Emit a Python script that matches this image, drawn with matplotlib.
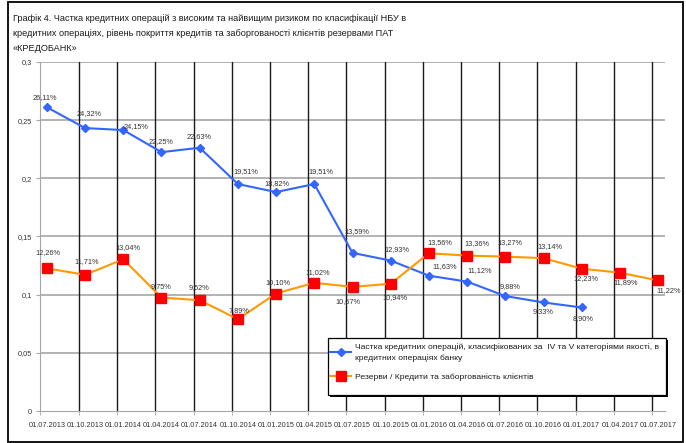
import matplotlib
matplotlib.use("Agg")
import matplotlib.pyplot as plt
from matplotlib.patches import Rectangle
from matplotlib.lines import Line2D

plt.rcParams['font.family'] = ['Liberation Sans', 'DejaVu Sans']

dates = ["01.07.2013", "01.10.2013", "01.01.2014", "01.04.2014", "01.07.2014",
         "01.10.2014", "01.01.2015", "01.04.2015", "01.07.2015", "01.10.2015",
         "01.01.2016", "01.04.2016", "01.07.2016", "01.10.2016", "01.01.2017",
         "01.04.2017", "01.07.2017"]
share_pct = [26.11, 24.32, 24.15, 22.25, 22.63, 19.51, 18.82, 19.51, 13.59, 12.93,
             11.63, 11.12, 9.88, 9.33, 8.90]
reserves_pct = [12.26, 11.71, 13.04, 9.75, 9.52, 7.89, 10.10, 11.02, 10.67, 10.94,
                13.56, 13.36, 13.27, 13.14, 12.23, 11.89, 11.22]
yticks = [0, 0.05, 0.1, 0.15, 0.2, 0.25, 0.3]
ytick_labels = ["0", "0,05", "0,1", "0,15", "0,2", "0,25", "0,3"]

title = ("Графік 4. Частка кредитних операцій з високим та найвищим ризиком по класифікації НБУ в\n"
         "кредитних операціях, рівень покриття кредитів та заборгованості клієнтів резервами ПАТ\n"
         "«КРЕДОБАНК»")
label_share = ("Частка кредитних операцій, класифікованих за  IV та V категоріями якості, в\n"
               "кредитних операціях банку")
label_res = "Резерви / Кредити та заборгованість клієнтів"

# label offsets in pixels (dx, dy)
share_off = [(-2, 10), (4, 15), (13, 4), (0, 11), (-1, 11), (8, 12), (1, 9), (7, 12),
             (4, 21), (6, 11), (16, 9), (13, 11), (5, 10), (0, -9), (1, -11)]
res_off = [(1, 16), (2, 13), (5, 12), (0, 11), (-1, 13), (1, 9), (2, 11), (3, 10),
           (-5, -15), (4, -14), (11, 11), (10, 12), (5, 14), (6, 12), (4, -10),
           (6, -10), (11, -10)]

W, H = 686, 443
fig = plt.figure(figsize=(W / 100, H / 100), dpi=100)
ax = fig.add_axes([40 / W, 1 - 411 / H, 625 / W, 349 / H])

xs = list(range(len(dates)))
share = [v / 100 for v in share_pct]
res = [v / 100 for v in reserves_pct]

blue = '#3366FF'
orange = '#FF9900'
red = '#FF0000'

ax.set_xlim(-0.18, len(dates) - 1 + 0.18)
ax.set_ylim(0, 0.3)

for y in yticks[1:]:
    ax.axhline(y, color='#A6A6A6', lw=1.2, zorder=1)
for i in range(1, len(dates)):
    ax.axvline(i - 0.16, color='#1a1a1a', lw=1.0, zorder=1)

ax.plot(xs[:len(share)], share, color=blue, lw=1.5, marker='D', ms=4.5,
        mfc=blue, mec=blue, zorder=3)
ax.plot(xs, res, color=orange, lw=1.5, marker='s', ms=6.5,
        mfc=red, mec=red, zorder=3)

def fmt(v):
    return f"{v:.2f}".replace('.', ',') + "%"

for x, v, o in zip(xs, share_pct, share_off):
    ax.annotate(fmt(v), (x, v / 100), xytext=o, textcoords='offset pixels',
                ha='center', va='center', fontsize=5.3, color='#333333', zorder=4)
for x, v, o in zip(xs, reserves_pct, res_off):
    ax.annotate(fmt(v), (x, v / 100), xytext=o, textcoords='offset pixels',
                ha='center', va='center', fontsize=5.3, color='#333333', zorder=4)

ax.set_yticks(yticks)
ax.set_yticklabels(ytick_labels)
ax.set_xticks(xs)
ax.set_xticklabels(dates)
ax.set_xticks([i - 0.16 for i in range(1, len(dates))] + [-0.18], minor=True)
ax.tick_params(axis='x', which='major', length=0, labelsize=5.3, labelcolor='#333333', pad=8)
ax.tick_params(axis='x', which='minor', length=3, color='#A6A6A6')
ax.tick_params(axis='y', length=3, color='#A6A6A6', labelsize=5.3, labelcolor='#333333', pad=3)
for s in ['top', 'right']:
    ax.spines[s].set_visible(False)
ax.spines['left'].set_color('#A6A6A6')
ax.spines['bottom'].set_color('#A6A6A6')

# legend box with shadow (drawn as figure patches)
bx0, by0, bx1, by1 = 328, 338, 666, 395
fig.patches.append(Rectangle(((bx0 + 2) / W, 1 - (by1 + 2) / H), (bx1 - bx0) / W, (by1 - by0) / H,
                             transform=fig.transFigure, facecolor='black', edgecolor='black',
                             lw=0, zorder=5))
fig.patches.append(Rectangle((bx0 / W, 1 - by1 / H), (bx1 - bx0) / W, (by1 - by0) / H,
                             transform=fig.transFigure, facecolor='white', edgecolor='black',
                             lw=0.9, zorder=6))

handles = [Line2D([], [], color=blue, lw=1.5, marker='D', ms=4.5, mfc=blue, mec=blue),
           Line2D([], [], color=orange, lw=1.5, marker='s', ms=6.5, mfc=red, mec=red)]
leg = fig.legend(handles, [label_share, label_res], loc='upper left',
                 bbox_to_anchor=(330 / W, 1 - 343 / H),
                 fontsize=6.1, frameon=False, borderaxespad=0, borderpad=0,
                 handlelength=2.5, handletextpad=0.45, labelspacing=1.3)
leg.set_zorder(7)
for t in leg.get_texts():
    t.set_color('#1a1a1a')
    t.set_linespacing(1.6)

fig.text(13 / W, 1 - 14 / H, title, ha='left', va='top', fontsize=6.6,
         color='#1a1a1a', linespacing=1.85)

fig.patches.append(Rectangle((8 / W, 1 - 442 / H), 675 / W, 440 / H, transform=fig.transFigure,
                             fill=False, edgecolor='black', lw=1.3))

fig.savefig('out.png', dpi=100)
